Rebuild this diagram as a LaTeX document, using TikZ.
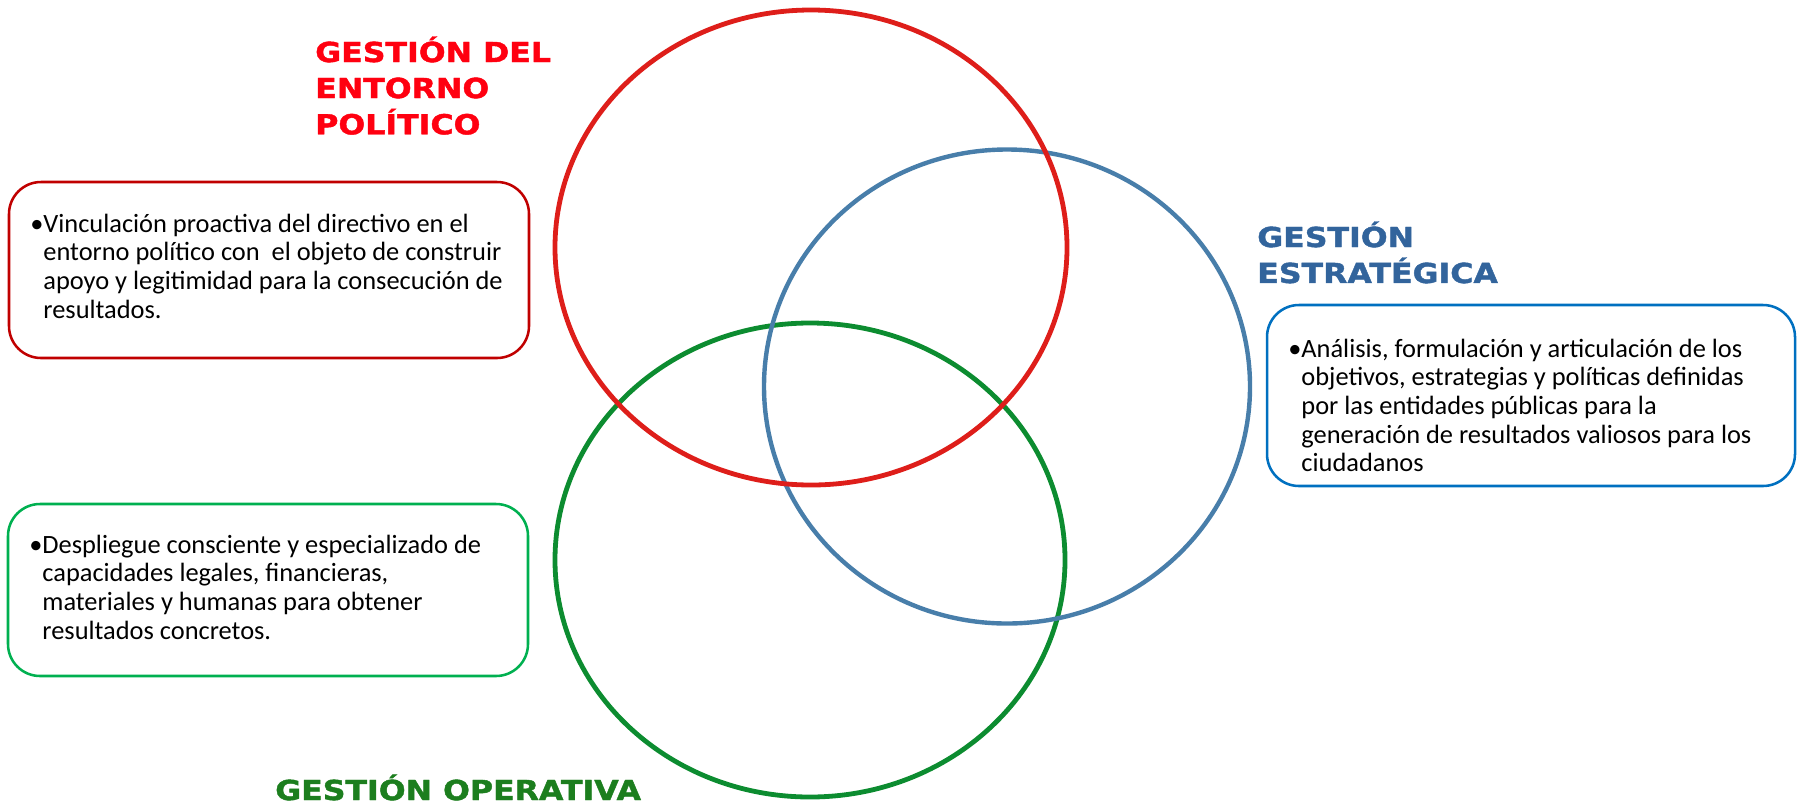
\documentclass[tikz,border=0pt]{standalone}
\usepackage{fontspec}
\setmainfont{Carlito}
\newfontfamily\headfont[FakeStretch=1.15,FakeBold=1.6]{DejaVu Sans}
\definecolor{cRedRing}{RGB}{222,30,26}
\definecolor{cGreenRing}{RGB}{12,140,48}
\definecolor{cBlueRing}{RGB}{72,126,170}
\definecolor{cRedHead}{RGB}{255,0,16}
\definecolor{cBlueHead}{RGB}{50,100,156}
\definecolor{cGreenHead}{RGB}{28,126,30}
\definecolor{cRedBox}{RGB}{192,0,0}
\definecolor{cGreenBox}{RGB}{0,176,80}
\definecolor{cBlueBox}{RGB}{0,112,192}
\begin{document}
\begin{tikzpicture}[x=0.75pt,y=-0.75pt,
  ring/.style={line width=3.6pt},
  card/.style={draw,line width=1.9pt,rounded corners=24pt,inner sep=0pt},
  body/.style={anchor=base west,inner sep=0pt,text=black,
    font=\fontsize{19.8pt}{21.5pt}\selectfont},
  head/.style={anchor=base west,inner sep=0pt,
    font=\headfont\bfseries\fontsize{20.6pt}{27pt}\selectfont}]
\useasboundingbox (0,0) rectangle (1797,804);
% rings
\draw[ring,cGreenRing] (810,560) ellipse [x radius=255,y radius=237];
\draw[ring,cBlueRing,line width=3.3pt] (1007,386.5) ellipse [x radius=243,y radius=237];
\draw[ring,cRedRing] (811,247.5) ellipse [x radius=256,y radius=237.5];
% cards
\node[card,draw=cRedBox,minimum width=390pt,minimum height=132pt] (redbox) at (269,270) {};
\node[card,draw=cGreenBox,minimum width=390pt,minimum height=129pt] (greenbox) at (268,590) {};
\node[card,draw=cBlueBox,minimum width=396pt,minimum height=135.75pt] (bluebox) at (1531,395.5) {};
% texts
\node[body] (redtext) at (30,232) {\makebox[9.86pt][l]{•}\begin{tabular}[t]{@{}l@{}}Vinculación proactiva del directivo en el\\entorno político con\ \ el objeto de construir\\apoyo y legitimidad para la consecución de\\resultados.\end{tabular}};
\node[body] (greentext) at (29,553) {\makebox[9.86pt][l]{•}\begin{tabular}[t]{@{}l@{}}Despliegue consciente y especializado de\\capacidades legales, financieras,\\materiales y humanas para obtener\\resultados concretos.\end{tabular}};
\node[body] (bluetext) at (1288,357) {\makebox[9.86pt][l]{•}\begin{tabular}[t]{@{}l@{}}Análisis, formulación y articulación de los\\objetivos, estrategias y políticas definidas\\por las entidades públicas para la\\generación de resultados valiosos para los\\ciudadanos\end{tabular}};
% headings
\node[head,text=cRedHead] (redhead) at (315,62) {\begin{tabular}[t]{@{}l@{}}GESTIÓN DEL\\ENTORNO\\POLÍTICO\end{tabular}};
\node[head,text=cBlueHead,font=\headfont\bfseries\fontsize{20.6pt}{26.3pt}\selectfont] (bluehead) at (1257,247) {\begin{tabular}[t]{@{}l@{}}GESTIÓN\\ESTRATÉGICA\end{tabular}};
\node[head,text=cGreenHead] (greenhead) at (275,800) {GESTIÓN OPERATIVA};
\end{tikzpicture}
\end{document}
